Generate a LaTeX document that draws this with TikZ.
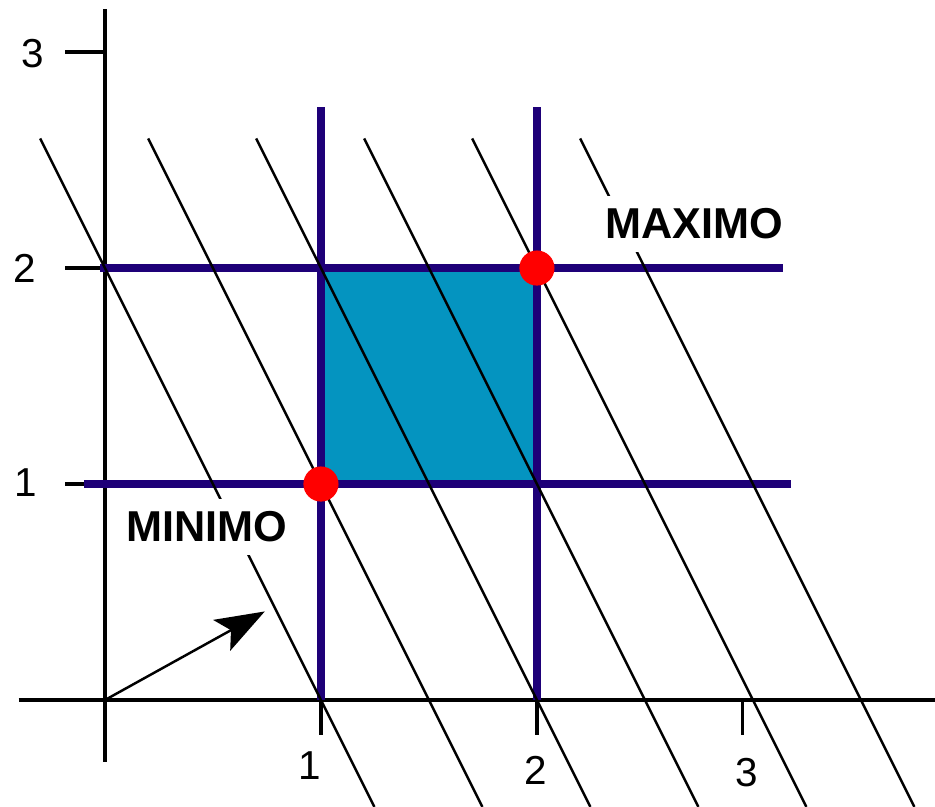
\documentclass[tikz,border=0pt]{standalone}
\usepackage{fontspec}
\setmainfont{Liberation Sans}
\usetikzlibrary{arrows.meta}

\definecolor{gridblue}{RGB}{30,0,120}
\definecolor{feasible}{RGB}{4,148,192}

\begin{document}
\begin{tikzpicture}[x=2.16cm, y=2.16cm, >={Stealth[length=14pt, width=10pt, inset=3pt]}]
        \tikzstyle{axis} = [draw=black, line width=0.9pt]
        \tikzstyle{level} = [draw=black, line width=0.7pt]
        \tikzstyle{bound} = [draw=gridblue, line width=2.3pt]
        \tikzstyle{optpoint} = [circle, fill=red, inner sep=0pt, minimum size=10pt]
        \tikzstyle{tag} = [fill=white, inner sep=3.5pt, font=\fontsize{12.3}{14}\selectfont\bfseries]
        \tikzstyle{num} = [inner sep=0pt, font=\fontsize{11.5}{13}\selectfont]

        \useasboundingbox (-0.486,-0.495) rectangle (3.843,3.241);

        \coordinate (O) at (0,0);

        % feasible region
        \fill [feasible] (1,1) rectangle (2,2);

        % axes and ticks
        \draw [axis] (-0.40,0) -- (3.843,0);
        \draw [axis] (0,-0.287) -- (0,3.2);
        \foreach \v in {1,2,3}
            \draw [axis] (-0.185,\v) -- (0,\v);
        \foreach \v/\x in {1/1, 2/2, 3/2.95}
            \draw [axis] (\x,0) -- (\x,-0.16);

        \node [num] (y1) at (-0.366,1.005) {1};
        \node [num] (y2) at (-0.37,2.0) {2};
        \node [num] (y3) at (-0.333,2.995) {3};
        \node [num] (x1) at (0.949,-0.306) {1};
        \node [num] (x2) at (1.995,-0.324) {2};
        \node [num] (x3) at (2.97,-0.338) {3};

        % constraint lines
        \draw [bound] (1,0) -- (1,2.745);
        \draw [bound] (2,0) -- (2,2.745);
        \draw [bound] (-0.023,2) -- (3.14,2);
        \draw [bound] (-0.097,1) -- (3.176,1);

        % level lines 2x+y=c
        \foreach \c in {2,...,7}
            \draw [level] ({(\c-2.6)/2},2.6) -- ({(\c+0.495)/2},-0.495);

        \node [tag] (minlabel) at (0.472,0.801) {MINIMO};
        \node [tag] (maxlabel) at (2.727,2.204) {MAXIMO};

        % gradient
        \coordinate (grad) at (0.74,0.41);
        \draw [->, level] (O) -- (grad);

        \node [optpoint] (min) at (1,1) {};
        \node [optpoint] (max) at (2,2) {};

    \end{tikzpicture}
\end{document}
